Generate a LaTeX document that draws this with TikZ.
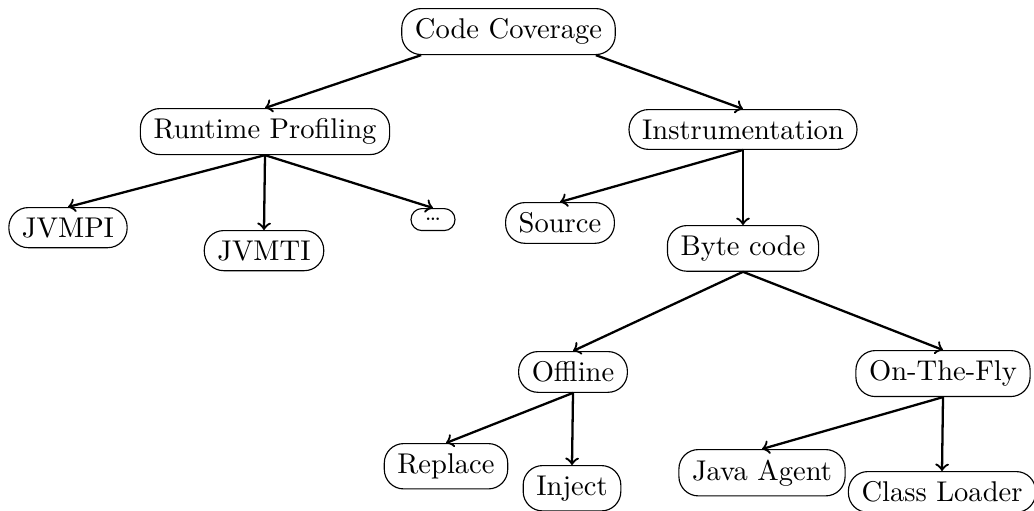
\documentclass[tikz,border=0pt]{standalone}
\usetikzlibrary{calc}
\tikzset{
  topic/.style={draw, rectangle, rounded corners=6.8pt, inner xsep=4.6pt, inner ysep=3.5pt, anchor=north},
  small topic/.style={topic, rounded corners=3.8pt, inner xsep=1pt, inner ysep=1pt, minimum width=15.4pt, minimum height=7.7pt},
  link/.style={->, thick}
}
\begin{document}
\begin{tikzpicture}[x=0.35026pt, y=-0.35026pt]
  \useasboundingbox (0,0) rectangle (1034,510);

  % level 0
  \node[topic] (cc) at (508.5,8) {Code Coverage};

  % level 1
  \node[topic] (rp) at (265,108) {Runtime Profiling};
  \node[topic] (ins) at (743,109) {Instrumentation};

  % profiling interfaces
  \node[topic] (jvmpi) at (68,207) {JVMPI};
  \node[topic] (jvmti) at (264,230) {JVMTI};
  \node[small topic] (more) at (433,208) {\footnotesize\ldots};

  % instrumentation kinds
  \node[topic] (src) at (560,202) {Source};
  \node[topic] (bc) at (743,225) {Byte code};

  % byte code modes
  \node[topic] (off) at (573,351) {Offline};
  \node[topic] (otf) at (943,350) {On-The-Fly};

  \node[topic] (rep) at (446,443) {Replace};
  \node[topic] (inj) at (572,465) {Inject};
  \node[topic] (ja) at (762,449) {Java Agent};
  \node[topic] (cl) at (942,471) {Class Loader};

  % connectors
  \draw[link] ($(cc.south west)+(7pt,0)$) -- (rp.north);
  \draw[link] ($(cc.south east)+(-7pt,0)$) -- (ins.north);

  \draw[link] (rp.south) -- (jvmpi.north);
  \draw[link] (rp.south) -- (jvmti.north);
  \draw[link] (rp.south) -- (more.north);

  \draw[link] (ins.south) -- (src.north);
  \draw[link] (ins.south) -- (bc.north);

  \draw[link] (bc.south) -- (off.north);
  \draw[link] (bc.south) -- (otf.north);

  \draw[link] (off.south) -- (rep.north);
  \draw[link] (off.south) -- (inj.north);

  \draw[link] (otf.south) -- (ja.north);
  \draw[link] (otf.south) -- (cl.north);
\end{tikzpicture}
\end{document}
